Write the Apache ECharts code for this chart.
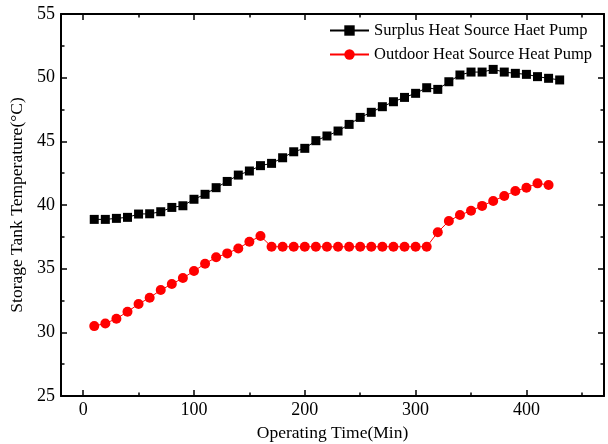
<!DOCTYPE html>
<html>
<head>
<meta charset="utf-8">
<script src="https://cdn.jsdelivr.net/npm/echarts@6/dist/echarts.min.js"></script>
<style>html,body{margin:0;padding:0;background:#fff}#c{width:608px;height:444px}</style>
</head>
<body>
<div id="c"></div>
<script>
var timeSurplus = [10,20,30,40,50,60,70,80,90,100,110,120,130,140,150,160,170,180,190,200,210,220,230,240,250,260,270,280,290,300,310,320,330,340,350,360,370,380,390,400,410,420,430];
var tempSurplus = [38.87,38.87,38.95,39.03,39.29,39.31,39.47,39.81,39.94,40.45,40.84,41.36,41.85,42.35,42.67,43.09,43.27,43.71,44.18,44.45,45.05,45.42,45.81,46.33,46.88,47.28,47.72,48.11,48.45,48.77,49.21,49.08,49.68,50.21,50.44,50.44,50.65,50.44,50.34,50.26,50.08,49.95,49.82];
var timeOutdoor = [10,20,30,40,50,60,70,80,90,100,110,120,130,140,150,160,170,180,190,200,210,220,230,240,250,260,270,280,290,300,310,320,330,340,350,360,370,380,390,400,410,420];
var tempOutdoor = [30.49,30.70,31.07,31.62,32.22,32.72,33.32,33.79,34.26,34.81,35.39,35.89,36.20,36.59,37.11,37.56,36.72,36.72,36.72,36.72,36.72,36.72,36.72,36.72,36.72,36.72,36.72,36.72,36.72,36.72,36.72,37.86,38.74,39.21,39.55,39.93,40.32,40.70,41.10,41.36,41.70,41.57];
var xMajorTicks = [0,100,200,300,400];
var xMinorTicks = [50,150,250,350,450];
var seriesNames = ['Surplus Heat Source Haet Pump','Outdoor Heat Source Heat Pump'];
var xTitle = 'Operating Time(Min)';
var yTitle = 'Storage Tank Temperature(\u00B0C)';

var FONT = '"Liberation Serif","Times New Roman",serif';
var chart = echarts.init(document.getElementById('c'));

function xAx(pos, ticks, len, showLabel, showLine, extra) {
  var a = {
    type: 'value', position: pos, min: -20, max: 470,
    axisLine: {show: showLine, onZero: false, lineStyle: {color: '#000', width: 2}},
    axisTick: {show: true, inside: true, length: len, customValues: ticks, lineStyle: {color: '#000', width: 1.5}},
    axisLabel: {show: showLabel, customValues: ticks, color: '#000', fontFamily: FONT, fontSize: 18, margin: 5},
    splitLine: {show: false}
  };
  if (extra) for (var k in extra) a[k] = extra[k];
  return a;
}
function yAx(pos, showLabel, extra) {
  var a = {
    type: 'value', position: pos, min: 25, max: 55, interval: 5,
    axisLine: {show: true, onZero: false, lineStyle: {color: '#000', width: 2}},
    axisTick: {show: true, inside: true, length: 6, lineStyle: {color: '#000', width: 1.5}},
    minorTick: {show: true, splitNumber: 2, length: 3.5, lineStyle: {color: '#000', width: 1.5}},
    axisLabel: {show: showLabel, color: '#000', fontFamily: FONT, fontSize: 18, margin: 6},
    splitLine: {show: false}, minorSplitLine: {show: false}
  };
  if (extra) for (var k in extra) a[k] = extra[k];
  return a;
}

chart.setOption({
  animation: false,
  backgroundColor: '#fff',
  grid: {left: 61, right: 4, top: 14, bottom: 48, containLabel: false, outerBoundsMode: 'none'},
  legend: {
    orient: 'vertical', left: 329, top: 22, padding: 0, itemWidth: 39, itemHeight: 13, itemGap: 7,
    textStyle: {color: '#000', fontFamily: FONT, fontSize: 16.5},
    data: seriesNames
  },
  xAxis: [
    xAx('bottom', xMajorTicks, 6, true, true, {name: xTitle, nameLocation: 'middle', nameGap: 28,
      nameTextStyle: {color: '#000', fontFamily: FONT, fontSize: 17.5}}),
    xAx('bottom', xMinorTicks, 3.5, false, false),
    xAx('top', xMajorTicks, 6, false, true),
    xAx('top', xMinorTicks, 3.5, false, false)
  ],
  yAxis: [
    yAx('left', true, {name: yTitle, nameLocation: 'middle', nameGap: 33,
      nameTextStyle: {color: '#000', fontFamily: FONT, fontSize: 17.5}}),
    yAx('right', false)
  ],
  series: [
    {name: seriesNames[0], type: 'line', xAxisIndex: 0, yAxisIndex: 0,
     data: timeSurplus.map(function(t, i){ return [t, tempSurplus[i]]; }),
     symbol: 'rect', symbolSize: 9, itemStyle: {color: '#000'},
     lineStyle: {color: '#000', width: 1}},
    {name: seriesNames[1], type: 'line', xAxisIndex: 0, yAxisIndex: 0,
     data: timeOutdoor.map(function(t, i){ return [t, tempOutdoor[i]]; }),
     symbol: 'circle', symbolSize: 10, itemStyle: {color: '#ff0000'},
     lineStyle: {color: '#ff0000', width: 1}}
  ]
});
</script>
</body>
</html>
